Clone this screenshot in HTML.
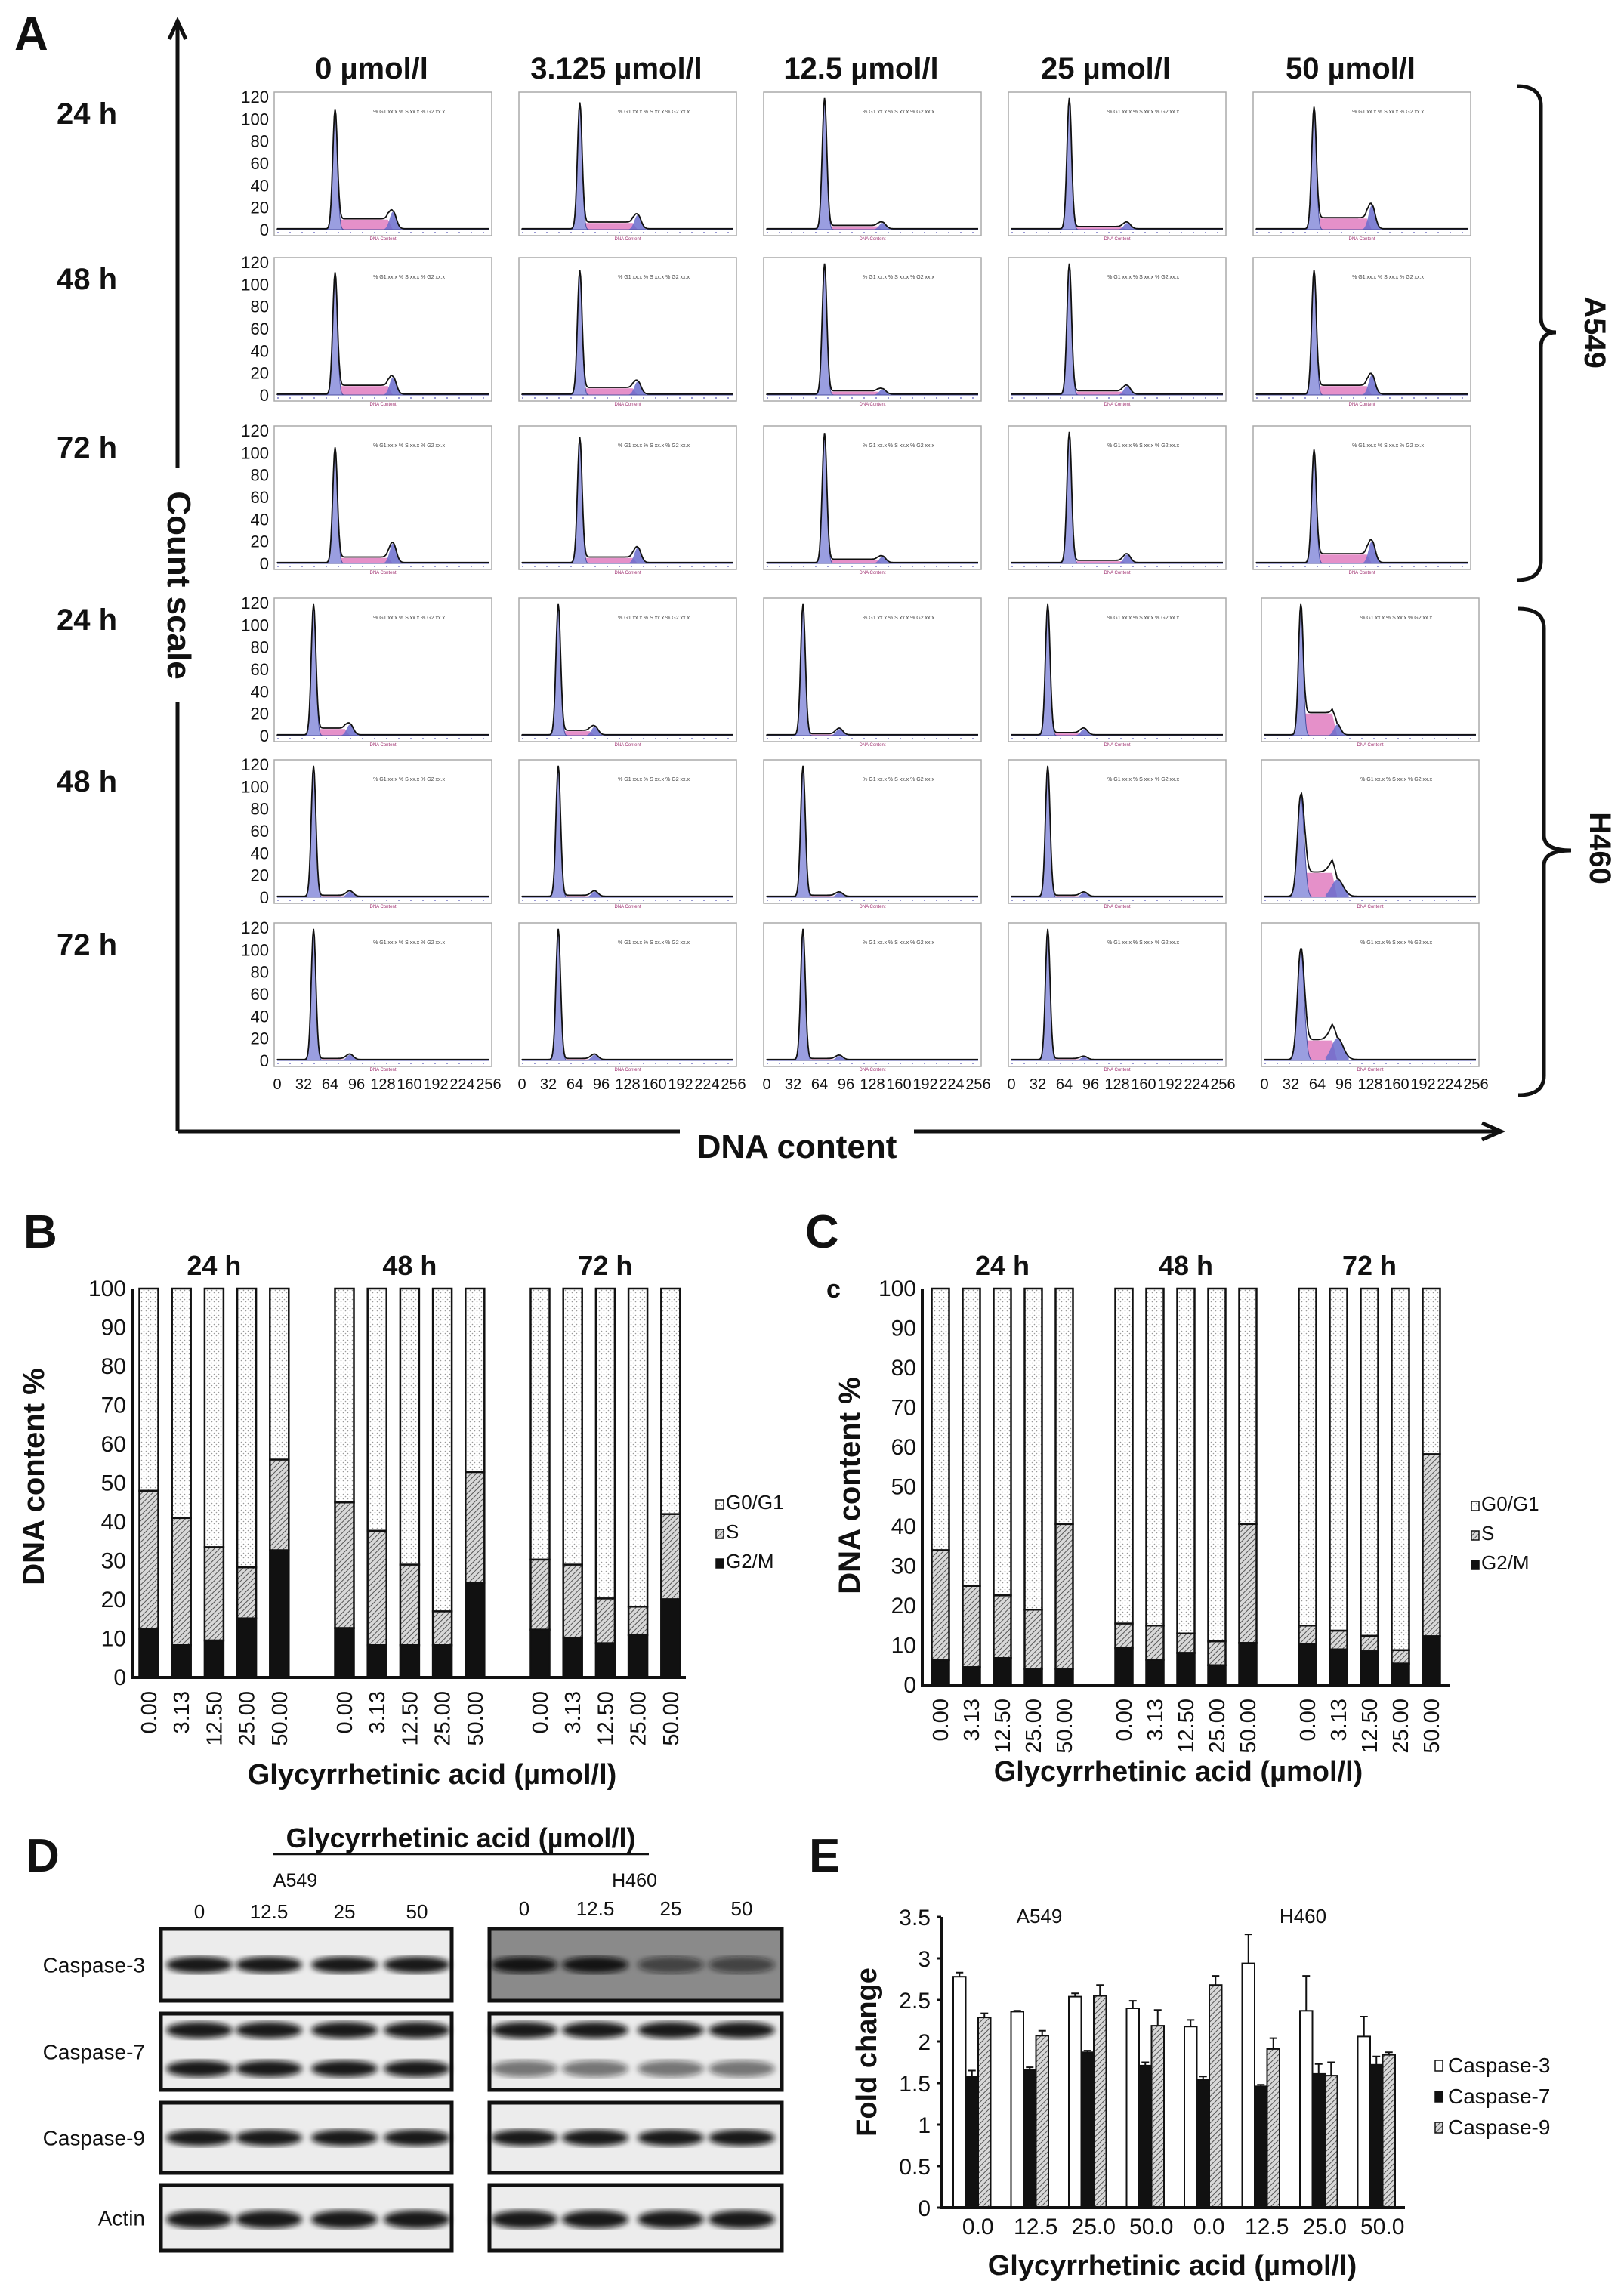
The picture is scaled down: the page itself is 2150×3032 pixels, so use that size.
<!DOCTYPE html>
<html><head><meta charset="utf-8"><style>
html,body{margin:0;padding:0;background:#fff;}
svg{display:block;font-family:"Liberation Sans Narrow","Liberation Sans",sans-serif;}
.b{font-weight:bold;}
</style></head><body>
<svg id="fig" width="2150" height="3032" viewBox="0 0 2150 3032" xmlns="http://www.w3.org/2000/svg">
<defs>
<pattern id="dots" width="6" height="6" patternUnits="userSpaceOnUse"><rect width="6" height="6" fill="#fff"/><circle cx="1.5" cy="1.5" r="0.8" fill="#999"/><circle cx="4.5" cy="4.5" r="0.8" fill="#999"/></pattern>
<pattern id="hatch" width="5" height="5" patternUnits="userSpaceOnUse" patternTransform="rotate(45)"><rect width="5" height="5" fill="#d8d8d8"/><line x1="0" y1="0" x2="0" y2="5" stroke="#555" stroke-width="2"/></pattern>
<filter id="blur"><feGaussianBlur stdDeviation="4"/></filter>
</defs>
</svg>
<script>
// ===== Panel B / C data =====
const cycleDoses=['0.00','3.13','12.50','25.00','50.00'];
const cycleTimes=['24 h','48 h','72 h'];
const bG2M=[12.5,8.3,9.5,15.2,32.7, 12.7,8.3,8.3,8.3,24.3, 12.3,10.2,8.8,10.9,20.1];
const bS=[35.5,32.7,24,13.1,23.3, 32.3,29.4,20.7,8.7,28.5, 18,18.8,11.5,7.3,21.9];
const cG2M=[6.3,4.5,6.8,4.1,4.1, 9.3,6.4,8.1,5,10.6, 10.4,9,8.5,5.4,12.3];
const cS=[27.7,20.5,15.8,14.9,36.5, 6.2,8.6,4.9,6,30, 4.6,4.7,3.9,3.4,45.9];
const yTicks100=[0,10,20,30,40,50,60,70,80,90,100];
// ===== Panel E data =====
const eDoses=['0.0','12.5','25.0','50.0','0.0','12.5','25.0','50.0'];
const eCasp3=[2.78,2.36,2.54,2.40,2.18,2.94,2.37,2.06];
const eCasp3Err=[0.05,0.01,0.04,0.09,0.08,0.35,0.42,0.24];
const eCasp7=[1.58,1.66,1.87,1.71,1.54,1.46,1.61,1.72];
const eCasp7Err=[0.07,0.03,0.02,0.04,0.04,0.02,0.12,0.10];
const eCasp9=[2.29,2.07,2.55,2.19,2.68,1.91,1.59,1.84];
const eCasp9Err=[0.05,0.06,0.13,0.19,0.11,0.13,0.16,0.03];
const eTicks=['0','0.5','1','1.5','2','2.5','3','3.5'];
// ===== Panel A histogram data (6 rows x 5 cols) =====
const histDoses=['0 µmol/l','3.125 µmol/l','12.5 µmol/l','25 µmol/l','50 µmol/l'];
const histTimes=['24 h','48 h','72 h','24 h','48 h','72 h'];
const g1Peak=[108,114,118,118,110, 110,112,118,118,112, 104,113,117,118,102, 118,118,118,118,118, 118,118,118,118,92, 118,118,118,118,100];
const sLevel=[9,6,3,2,10, 8,6,3,3,8, 5,5,3,2,8, 6,4,1,2,20, 1,1,1,1,22, 1,1,1,1,18];
const g2Peak=[16,13,6,6,22, 16,12,5,8,18, 18,14,6,8,20, 10,8,6,6,10, 5,5,4,4,16, 5,5,4,3,20];
const countTicks=[0,20,40,60,80,100,120];
const dnaTicks=[0,32,64,96,128,160,192,224,256];

const NS='http://www.w3.org/2000/svg';
const svg=document.getElementById('fig');
function mk(tag,attrs,parent){const e=document.createElementNS(NS,tag);for(const k in attrs)e.setAttribute(k,attrs[k]);(parent||svg).appendChild(e);return e;}
function txt(s,x,y,size,opts,parent){const e=mk('text',Object.assign({x:x,y:y,'font-size':size,fill:'#111'},opts||{}),parent);e.textContent=s;return e;}

// ================= Panel A =================
let t;
t=txt('A',19,66,62,{'font-weight':'bold','font-family':'Liberation Sans,sans-serif'});

let ax=mk('path',{d:'M235,1498 L235,30 M224,52 L235,28 L246,52',stroke:'#111','stroke-width':5,fill:'none'});

ax=mk('path',{d:'M235,1498 L1985,1498 M1962,1487 L1987,1498 L1962,1509',stroke:'#111','stroke-width':5,fill:'none'});

mk('rect',{x:218,y:620,width:34,height:310,fill:'#fff'});
t=txt('Count scale',0,0,44,{'font-weight':'bold',transform:'translate(222,775) rotate(90)','text-anchor':'middle','font-family':'Liberation Sans,sans-serif'});

mk('rect',{x:900,y:1480,width:310,height:36,fill:'#fff'});
t=txt('DNA content',1055,1533,44,{'font-weight':'bold','text-anchor':'middle','font-family':'Liberation Sans,sans-serif'});


const colX=[363,687,1011,1335,1659];
const rowY=[122,341,564,792,1006,1222];
const PW=288,PH=190;
histDoses.forEach((d,i)=>{
  const e=txt(d,colX[i]+PW/2-15,104,40,{'font-weight':'bold','text-anchor':'middle'});
  
});
histTimes.forEach((h,r)=>{
  const e=txt(h,115,rowY[r]+42,40,{'font-weight':'bold','text-anchor':'middle'});
  
});
function gauss(x,m,s){return Math.exp(-0.5*((x-m)/s)*((x-m)/s));}
for(let r=0;r<6;r++){
  const h460=r>=3;
  for(let c=0;c<5;c++){
    const k=r*5+c;
    const x0=colX[c]+(h460&&c==4?11:0), y0=rowY[r];
    const g=mk('g',{});
    
    
    mk('rect',{x:x0,y:y0,width:PW,height:PH,fill:'#fff',stroke:'#aaa','stroke-width':1.5},g);
    const L=x0+4,R=x0+PW-4,base=y0+PH-8,top=y0+6;
    const xs=v=>L+(R-L)*v/256;
    const ys=v=>base-(base-top)*v/120;
    const p1=h460?44:70, p2=p1*2;
    const broad=(h460&&c==4&&r>=4);
    const sg1=broad?4:2.8, sg2=broad?7:4;
    let g1d='M'+xs(0)+','+base, sd='M'+xs(p1)+','+base, g2d='M'+xs(p2-14)+','+base, tot='M'+xs(0)+','+ys(1);
    for(let v=0;v<=256;v+=1){
      const a=g1Peak[k]*gauss(v,p1,sg1);
      const sv=(v>p1&&v<p2)?sLevel[k]*Math.min(1,(v-p1)/6,(p2-v)/6):0;
      const b=g2Peak[k]*gauss(v,p2,sg2);
      g1d+=' L'+xs(v).toFixed(1)+','+ys(a).toFixed(1);
      if(v>=p1&&v<=p2) sd+=' L'+xs(v).toFixed(1)+','+ys(sv).toFixed(1);
      if(v>=p2-14&&v<=p2+14) g2d+=' L'+xs(v).toFixed(1)+','+ys(b).toFixed(1);
      tot+=' L'+xs(v).toFixed(1)+','+ys(a+sv+b+0.8).toFixed(1);
    }
    mk('path',{d:sd+' L'+xs(p2)+','+base+'Z',fill:'#e07cc0','fill-opacity':0.85},g);
    mk('path',{d:g2d+' L'+xs(p2+14)+','+base+'Z',fill:'#6a6ccc','fill-opacity':0.85},g);
    mk('path',{d:g1d+' L'+xs(256)+','+base+'Z',fill:'#9a9ee0',stroke:'#4a4ea0','stroke-width':1},g);
    mk('path',{d:tot,fill:'none',stroke:'#111','stroke-width':1.8},g);
    mk('line',{x1:L,y1:base+4,x2:R,y2:base+4,stroke:'#3333aa','stroke-width':1,'stroke-dasharray':'2 14'},g);
    txt('% G1 xx.x  % S xx.x  % G2 xx.x',x0+PW*0.62,y0+28,7,{'text-anchor':'middle',fill:'#444'},g);
    txt('DNA Content',x0+PW/2,y0+PH+6,6,{'text-anchor':'middle',fill:'#a03070'},g);
  }
  countTicks.forEach(v=>{
    const e=txt(String(v),356,rowY[r]+PH-8-(PH-14)*v/120+8,22,{'text-anchor':'end'});
    
  });
}
for(let c=0;c<5;c++){
  const x0=colX[c]+(c==4?11:0);
  dnaTicks.forEach((v,i)=>{
    const e=txt(String(v),x0+4+(PW-8)*i/8,1442,20,{'text-anchor':'middle'});
    
  });
}
let br=mk('path',{d:'M2008,114 Q2040,114 2040,140 L2040,420 Q2040,440 2060,440 Q2040,440 2040,460 L2040,742 Q2040,768 2008,768',stroke:'#111','stroke-width':5,fill:'none'});

t=txt('A549',0,0,40,{'font-weight':'bold',transform:'translate(2098,440) rotate(90)','text-anchor':'middle','font-family':'Liberation Sans,sans-serif'});

br=mk('path',{d:'M2010,806 Q2044,806 2044,832 L2044,1106 Q2044,1126 2080,1126 Q2044,1126 2044,1146 L2044,1424 Q2044,1450 2010,1450',stroke:'#111','stroke-width':5,fill:'none'});

t=txt('H460',0,0,40,{'font-weight':'bold',transform:'translate(2105,1123) rotate(90)','text-anchor':'middle','font-family':'Liberation Sans,sans-serif'});


// ================= Panels B & C =================
function stacked(cfg){
  const yv=v=>cfg.y0-(cfg.y0-cfg.y100)*v/100;
  let e=txt(cfg.letter,cfg.lx,cfg.ly,62,{'font-weight':'bold','font-family':'Liberation Sans,sans-serif'});
  
  yTicks100.forEach(v=>{
    const tk=txt(String(v),cfg.ax-8,yv(v)+10,30,{'text-anchor':'end'});
    
  });
  cycleTimes.forEach((tm,gi)=>{
    const tt=txt(tm,cfg.x0+gi*cfg.gp+2*cfg.bp,cfg.y100-18,36,{'font-weight':'bold','text-anchor':'middle'});
    
    cycleDoses.forEach((d,di)=>{
      const i=gi*5+di, cx=cfg.x0+gi*cfg.gp+di*cfg.bp, w=cfg.bw;
      const g2=cfg.g2m[i], s=cfg.s[i];
      const r1=mk('rect',{x:cx-w/2,y:yv(100),width:w,height:yv(g2+s)-yv(100),fill:'url(#dots)',stroke:'#111','stroke-width':2.5});
      
      const r2=mk('rect',{x:cx-w/2,y:yv(g2+s),width:w,height:yv(g2)-yv(g2+s),fill:'url(#hatch)',stroke:'#111','stroke-width':2.5});
      
      const r3=mk('rect',{x:cx-w/2,y:yv(g2),width:w,height:yv(0)-yv(g2),fill:'#111',stroke:'#111','stroke-width':2.5});
      
      const lb=txt(d,0,0,29,{transform:'translate('+(cx+10)+','+(cfg.y0+18)+') rotate(-90)','text-anchor':'end'});
      
    });
  });
  const a=mk('path',{d:'M'+cfg.ax+','+cfg.y100+' L'+cfg.ax+','+cfg.y0+' L'+cfg.axEnd+','+cfg.y0,stroke:'#111','stroke-width':4,fill:'none'});
  
  e=txt('DNA content %',0,0,40,{'font-weight':'bold',transform:'translate('+cfg.ytx+','+cfg.yty+') rotate(-90)','text-anchor':'middle','font-family':'Liberation Sans,sans-serif'});
  
  e=txt('Glycyrrhetinic acid (µmol/l)',cfg.xtx,cfg.xty,38,{'font-weight':'bold','text-anchor':'middle'});
  
  const leg=[['G0/G1','url(#dots)'],['S','url(#hatch)'],['G2/M','#111']];
  leg.forEach((l,i)=>{
    const y=cfg.legY+i*39;
    const r=mk('rect',{x:cfg.legX,y:y-12,width:10,height:12,fill:l[1],stroke:'#111','stroke-width':1.5});
    
    const lt=txt(l[0],cfg.legX+13,y,26,{});
    
  });
}
stacked({letter:'B',lx:31,ly:1652,ax:175,axEnd:908,y0:2221,y100:1706,x0:197,bp:43.2,gp:259,bw:25,g2m:bG2M,s:bS,ytx:58,yty:1955,xtx:572,xty:2362,legX:948,legY:1998});
stacked({letter:'C',lx:1066,ly:1652,ax:1221,axEnd:1920,y0:2231,y100:1706,x0:1245,bp:41,gp:243,bw:23,g2m:cG2M,s:cS,ytx:1138,yty:1967,xtx:1560,xty:2358,legX:1948,legY:2000});
t=txt('c',1094,1718,34,{'font-weight':'bold','font-family':'Liberation Sans,sans-serif'});


// ================= Panel D (western blots) =================
t=txt('D',34,2478,62,{'font-weight':'bold','font-family':'Liberation Sans,sans-serif'});

t=txt('Glycyrrhetinic acid (µmol/l)',610,2446,36,{'font-weight':'bold','text-anchor':'middle'});

mk('line',{x1:362,y1:2455,x2:859,y2:2455,stroke:'#111','stroke-width':2.5});
t=txt('A549',391,2498,25,{'text-anchor':'middle'});
t=txt('H460',840,2498,25,{'text-anchor':'middle'});
const laneLbl=['0','12.5','25','50'];
const laneA=[264,356,456,552], laneH=[694,788,888,982];
laneLbl.forEach((l,i)=>{
  let e=txt(l,laneA[i],2540,26,{'text-anchor':'middle'});
  e=txt(l,laneH[i],2536,26,{'text-anchor':'middle'});
});
const blotRows=[['Caspase-3',2554,2649],['Caspase-7',2666,2767],['Caspase-9',2784,2877],['Actin',2893,2980]];
blotRows.forEach((b,ri)=>{
  const e=txt(b[0],192,(b[1]+b[2])/2+10,28,{'text-anchor':'end'});
  
  [[213,598,laneA,'a549'],[648,1035,laneH,'h460']].forEach(p=>{
    const bg=(ri==0&&p[3]=='h460')?'#8a8a8a':'#ececec';
    const r=mk('rect',{x:p[0],y:b[1],width:p[1]-p[0],height:b[2]-b[1],fill:bg,stroke:'#111','stroke-width':5});
    
    const mid=(b[1]+b[2])/2;
    const ys=ri==1?[b[1]+22,b[2]-28]:[mid+(ri==3?2:0)];
    ys.forEach((yy,bi)=>{
      p[2].forEach((lx,li)=>{
        const op=(ri==1&&p[3]=='h460'&&bi==1)?0.55:(ri==0&&p[3]=='h460'&&li>=2?0.6:0.95);
        mk('ellipse',{cx:lx,cy:yy,rx:44,ry:ri==3?12:11,fill:'#111','fill-opacity':op,filter:'url(#blur)'});
      });
    });
  });
});

// ================= Panel E =================
t=txt('E',1071,2478,62,{'font-weight':'bold','font-family':'Liberation Sans,sans-serif'});

const eY0=2923,eUnit=110,eX0=1262,ePitch=76.5,eBW=16.5;
const ey=v=>eY0-v*eUnit;
eTicks.forEach(s=>{
  const v=parseFloat(s);
  const e=txt(s,1232,ey(v)+11,30,{'text-anchor':'end'});
  
  mk('line',{x1:1240,y1:ey(v),x2:1246,y2:ey(v),stroke:'#111','stroke-width':3});
});
const eSeries=[[eCasp3,eCasp3Err,'#fff','caspase-3'],[eCasp7,eCasp7Err,'#111','caspase-7'],[eCasp9,eCasp9Err,'url(#hatch)','caspase-9']];
eDoses.forEach((d,gi)=>{
  eSeries.forEach((s,si)=>{
    const x=eX0+gi*ePitch+si*eBW;
    const v=s[0][gi], er=s[1][gi];
    const r=mk('rect',{x:x,y:ey(v),width:eBW,height:ey(0)-ey(v),fill:s[2],stroke:'#111','stroke-width':2});
    
    const eb=mk('path',{d:'M'+(x+eBW/2)+','+ey(v)+' L'+(x+eBW/2)+','+ey(v+er)+' M'+(x+eBW/2-5)+','+ey(v+er)+' L'+(x+eBW/2+5)+','+ey(v+er),stroke:'#111','stroke-width':2,fill:'none'});
    
  });
  const lb=txt(d,eX0+gi*ePitch+eBW*1.5+8,2958,30,{'text-anchor':'middle'});
  
});
t=mk('path',{d:'M1246,2538 L1246,2923 L1860,2923',stroke:'#111','stroke-width':4,fill:'none'});

t=txt('A549',1376,2546,26,{'text-anchor':'middle'});
t=txt('H460',1725,2546,26,{'text-anchor':'middle'});
t=txt('Fold change',0,0,38,{'font-weight':'bold',transform:'translate(1160,2717) rotate(-90)','text-anchor':'middle','font-family':'Liberation Sans,sans-serif'});

t=txt('Glycyrrhetinic acid (µmol/l)',1552,3012,38,{'font-weight':'bold','text-anchor':'middle'});

eSeries.forEach((s,i)=>{
  const y=2744+i*41;
  const r=mk('rect',{x:1900,y:y-16,width:10,height:14,fill:s[2],stroke:'#111','stroke-width':1.5});
  
  const l=txt(s[3].replace('c','C'),1917,y,28,{});
  
});
</script>
</body></html>
